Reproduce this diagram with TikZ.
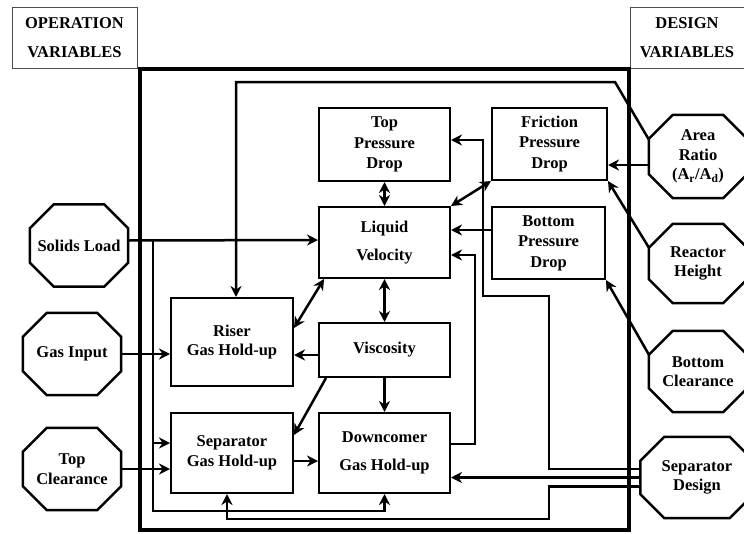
\documentclass[tikz,border=0pt]{standalone}
\usepackage{fontspec}
\setmainfont{Liberation Serif}
\usetikzlibrary{arrows.meta}
\tikzset{
  hdr/.style={draw=black!70, line width=0.8pt, minimum width=125pt, minimum height=61pt, align=center},
  blk/.style={draw, line width=2pt, inner sep=0pt, align=center},
  octa/.style={inner sep=0pt, minimum width=98pt, minimum height=82pt, align=center},
  link/.style={line width=2.5pt, -{Stealth[length=11pt,width=11pt,inset=3.5pt]}},
  dlink/.style={line width=2.5pt, {Stealth[length=11pt,width=11pt,inset=3.5pt]}-{Stealth[length=11pt,width=11pt,inset=3.5pt]}},
}
\begin{document}
\begin{tikzpicture}[x=1pt, y=-1pt, font=\fontsize{16.5}{19.5}\selectfont\bfseries]
  \useasboundingbox (0,0) rectangle (744,533);

  % header boxes
  \node[hdr] (opHdr) at (74.5,37.5) {OPERATION\\[10pt]VARIABLES};
  \node[hdr, minimum width=114pt] (dsHdr) at (687,37.5) {DESIGN\\[10pt]VARIABLES};

  % outer frame
  \draw[line width=3.5pt] (140,69) rectangle (629,530);

  % inner blocks
  \node[blk, minimum width=131pt, minimum height=73pt] (topPD) at (384.5,144.5) {Top\\[1pt]Pressure\\[1pt]Drop};
  \node[blk, minimum width=131pt, minimum height=71pt] (liqVel) at (384.5,242.5) {Liquid\\[9pt]Velocity};
  \node[blk, minimum width=115pt, minimum height=72pt] (fricPD) at (549.5,144) {Friction\\[1pt]Pressure\\[1pt]Drop};
  \node[blk, minimum width=113pt, minimum height=72pt] (botPD) at (548.5,243) {Bottom\\[1pt]Pressure\\[1pt]Drop};
  \node[blk, minimum width=122pt, minimum height=88pt] (riser) at (232,342) {Riser\\Gas Hold-up};
  \node[blk, minimum width=131pt, minimum height=54pt] (visc) at (384.5,350) {Viscosity};
  \node[blk, minimum width=122pt, minimum height=80pt] (sepHold) at (232,453) {Separator\\Gas Hold-up};
  \node[blk, minimum width=131pt, minimum height=80pt] (downHold) at (384.5,453) {Downcomer\\[9pt]Gas Hold-up};

  % operation variables
  \node[octa] (solids) at (79,245.5) {Solids Load};
  \node[octa] (gasIn) at (72,354) {Gas Input};
  \node[octa] (topClr) at (72,469) {Top\\Clearance};

  % design variables
  \node[octa, minimum height=83pt] (areaR) at (698,156.5) {Area\\Ratio\\(A\textsubscript{r}/A\textsubscript{d})};
  \node[octa, minimum height=79pt] (reactH) at (698,263.5) {Reactor\\Height};
  \node[octa, minimum height=81pt] (botClr) at (698,371.5) {Bottom\\Clearance};
  \node[octa, minimum width=113pt, minimum height=81pt] (sepDes) at (697,477.5) {Separator\\Design};

  % octagon outlines
  \foreach \n in {solids,gasIn,topClr,areaR,reactH,botClr,sepDes} {
    \draw[line width=2.5pt, line join=miter]
      ([xshift=24pt]\n.north west) -- ([xshift=-24pt]\n.north east)
      -- ([yshift=-24pt]\n.north east) -- ([yshift=24pt]\n.south east)
      -- ([xshift=-24pt]\n.south east) -- ([xshift=24pt]\n.south west)
      -- ([yshift=24pt]\n.south west) -- ([yshift=-24pt]\n.north west) -- cycle;
  }

  % bend points
  \coordinate (solTee) at (153,240);
  \coordinate (solSep) at (153,443);
  \coordinate (solLow) at (153,511);
  \coordinate (loopR) at (615,82);
  \coordinate (loopL) at (236,82);
  \coordinate (sdA) at (549,296);
  \coordinate (sdB) at (483,140);
  \coordinate (sdC) at (549,519);
  \coordinate (sdD) at (227,519);
  \coordinate (dlUp) at (475,255);

  % solids load, gas input, top clearance
  \draw[link] ([yshift=5pt]solids.east) -- ([yshift=2.5pt]liqVel.west);
  \draw[link] (solTee) -- (solLow) -| (downHold.south);
  \draw[link] (solSep) -- (sepHold.west |- solSep);
  \draw[link] (gasIn.east) -- (riser.west |- gasIn.east);
  \draw[link] (topClr.east) -- (sepHold.west |- topClr.east);

  % links between blocks
  \draw[dlink] (topPD) -- (liqVel);
  \draw[dlink] (liqVel) -- (visc);
  \draw[link] (visc) -- (downHold);
  \draw[dlink] (fricPD.south west) -- (liqVel.north east);
  \draw[link] ([yshift=13pt]botPD.west) -- ([yshift=12.5pt]liqVel.east);
  \draw[dlink] ([xshift=6pt]liqVel.south west) -- ([yshift=14pt]riser.east);
  \draw[link] ([yshift=-5pt]visc.west) -- ([yshift=-13pt]riser.east);
  \draw[link] ([xshift=8pt]visc.south west) -- ([yshift=18pt]sepHold.east);
  \draw[link] ([yshift=-8pt]sepHold.east) -- ([yshift=-8pt]downHold.west);
  \draw[link] ([yshift=9pt]downHold.east) -| (dlUp) -- (liqVel.east |- dlUp);

  % design variables into the blocks
  \draw[link] ([yshift=17pt]areaR.west) -- (loopR) -- (loopL) -- (loopL |- riser.north);
  \draw[link] ([yshift=-8.5pt]areaR.west) -- ([yshift=-21pt]fricPD.east);
  \draw[link] ([yshift=16pt]reactH.west) -- (fricPD.south east);
  \draw[link] ([yshift=17pt]botClr.west) -- (botPD.south east);
  \draw[link] ([yshift=8.5pt]sepDes.west) -| (sdA) -| (sdB) -- (topPD.east |- sdB);
  \draw[link] (sepDes.west) -- (downHold.east |- sepDes.west);
  \draw[link] ([yshift=-9pt]sepDes.west) -| (sdC) -- (sdD) -- (sdD |- sepHold.south);
\end{tikzpicture}
\end{document}
